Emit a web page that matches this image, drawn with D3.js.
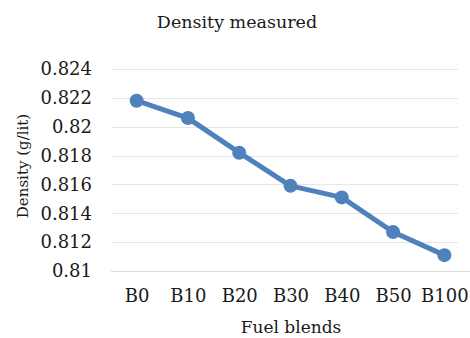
<!DOCTYPE html>
<html>
<head>
<meta charset="utf-8">
<script src="https://cdn.jsdelivr.net/npm/d3@7/dist/d3.min.js"></script>
<style>
  html, body { margin: 0; padding: 0; background: #fff; }
  svg text { font-family: "DejaVu Serif", "Liberation Serif", serif; fill: #1a1a1a; }
</style>
</head>
<body>
<svg id="chart" width="470" height="338"></svg>
<script>
// Fuel blends and their measured density (g/lit)
const blends = ["B0", "B10", "B20", "B30", "B40", "B50", "B100"];
const density = [0.8218, 0.8206, 0.8182, 0.8159, 0.8151, 0.8127, 0.8111];
const yTicks = [0.81, 0.812, 0.814, 0.816, 0.818, 0.82, 0.822, 0.824];

const svg = d3.select("#chart");
const margin = { left: 111, right: 0, top: 69, bottom: 67 };
const W = 470, H = 338;

const x = d3.scalePoint().domain(blends).range([margin.left, W - margin.right]).padding(0.5);
const y = d3.scaleLinear().domain([0.81, 0.824]).range([H - margin.bottom, margin.top]);

// horizontal gridlines
svg.append("g").selectAll("line").data(yTicks.slice(1)).join("line")
  .attr("x1", margin.left).attr("x2", W - 12)
  .attr("y1", d => Math.round(y(d)) + 0.5).attr("y2", d => Math.round(y(d)) + 0.5)
  .attr("stroke", "#e6e6e6").attr("stroke-width", 1);

// y axis labels
const yAxis = d3.axisLeft(y).tickValues(yTicks).tickSize(0).tickPadding(19)
  .tickFormat(d => String(+d.toFixed(3)));
const gy = svg.append("g").attr("transform", `translate(${margin.left},0)`).call(yAxis);
gy.select(".domain").remove();
gy.selectAll("text").style("font-size", "18px").style("font-family", "DejaVu Serif");

// x axis
const xAxis = d3.axisBottom(x).tickSize(0).tickPadding(18);
const gx = svg.append("g").attr("transform", `translate(0,${Math.round(y(0.81)) + 0.5})`).call(xAxis);
gx.select(".domain").attr("stroke", "#d9d9d9").attr("stroke-width", 1)
  .attr("d", `M${margin.left},0H${W}`);
gx.selectAll("text").style("font-size", "18px").style("font-family", "DejaVu Serif");

// line + markers
const color = "#4f81bd";
svg.append("path").datum(density)
  .attr("fill", "none").attr("stroke", color).attr("stroke-width", 5)
  .attr("stroke-linejoin", "round")
  .attr("d", d3.line().x((d, i) => x(blends[i])).y(d => y(d)));

svg.append("g").selectAll("circle").data(density).join("circle")
  .attr("cx", (d, i) => x(blends[i])).attr("cy", d => y(d)).attr("r", 7)
  .attr("fill", color);

// titles
svg.append("text").attr("x", 237).attr("y", 28).attr("text-anchor", "middle")
  .style("font-size", "17.5px").text("Density measured");
svg.append("text").attr("x", 291).attr("y", 333).attr("text-anchor", "middle")
  .style("font-size", "17px").text("Fuel blends");
svg.append("text").attr("transform", "translate(28,166) rotate(-90)")
  .attr("text-anchor", "middle").style("font-size", "15px").text("Density (g/lit)");
</script>
</body>
</html>
